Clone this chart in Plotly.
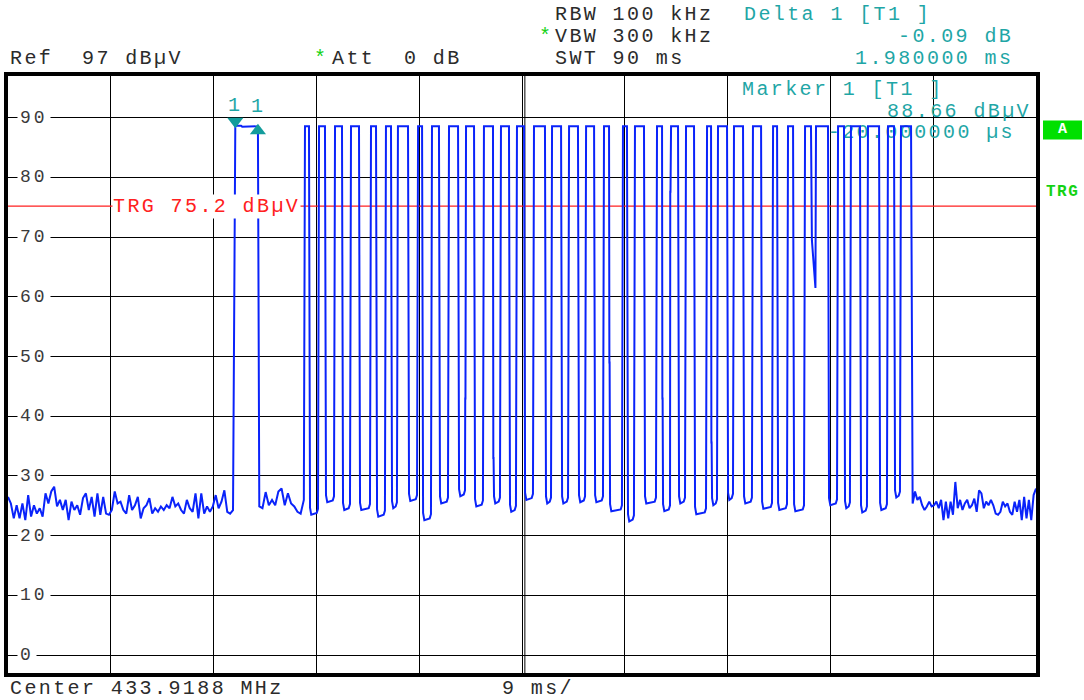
import numpy as np
import plotly.graph_objects as go

# ---------------- sweep / display settings ----------------
REF_LEVEL = 97.0          # dBuV, top grid line
BOTTOM_LEVEL = -3.0       # 10 div x 10 dB
SWEEP_MS = 90.0           # 9 ms/div
TRG_LEVEL = 75.2          # video trigger level, dBuV

# ---------------- trace data (ms / dBuV) ----------------
# noise floor before the burst
noise_pre = [26.5, 25.4, 22.9, 25.1, 22.9, 25.4, 22.6, 26.8, 23.2, 25.1, 23.7, 24.6,
             23.2, 27.1, 25.4, 27.4, 28.2, 24.9, 26.0, 24.3, 26.0, 22.6, 25.7, 24.3,
             25.1, 23.5, 26.3, 27.1, 24.3, 26.5, 23.2, 27.1, 23.5, 26.5, 23.7, 23.5,
             24.3, 27.4, 25.4, 25.7, 24.3, 23.7, 26.8, 24.3, 25.1, 26.5, 22.9, 24.6,
             25.1, 26.3, 23.7, 24.6, 24.0, 24.9, 24.3, 25.1, 24.6, 26.5, 24.9, 25.4,
             24.3, 23.7, 26.0, 24.6, 24.0, 27.1, 22.9, 27.1, 23.7, 24.9, 24.0, 24.9,
             26.8, 24.6, 25.7, 27.6, 24.0, 23.7, 24.3]
noise_pre_span = (0.0, 19.70)

# preamble pulse carrying marker 1 and delta marker
marker1_ms = 19.90
marker1_dbuv = 88.66
delta_ms = 1.98
delta_db = -0.09
preamble_step_ms = 20.40

# noise between preamble and data burst
noise_gap = [24.9, 24.6, 27.3, 25.1, 26.0, 25.1, 27.4, 27.9, 25.1, 27.1, 25.4,
             24.9, 24.0, 23.7, 26.0]
noise_gap_span = (22.00, 25.90)

# data burst: rising / falling edge times and the low level of each gap
pulse_rise = [26.00, 27.23, 28.63, 30.03, 31.78, 33.09, 34.14, 35.90, 37.12, 38.61,
              40.10, 41.67, 43.16, 44.56, 46.05, 47.63, 49.12, 50.61, 52.18, 53.84,
              54.89, 56.82, 58.05, 59.36, 61.20, 62.16, 63.56, 65.22, 66.98, 68.29,
              69.78, 70.74, 72.67, 73.80, 75.29, 77.04, 78.18]
pulse_fall = [26.35, 27.75, 29.24, 30.73, 32.22, 33.53, 35.02, 36.25, 37.73, 39.40,
              40.80, 42.46, 43.86, 45.18, 47.01, 48.42, 49.90, 51.31, 52.62, 54.19,
              55.68, 57.26, 58.66, 60.06, 61.55, 62.95, 64.35, 65.93, 67.33, 68.73,
              70.30, 71.79, 73.19, 74.59, 76.26, 77.57, 79.06]
pulse_top = 88.6
gap_low = [23.5, 25.6, 24.3, 24.3, 23.2, 24.6, 25.8, 22.6, 25.4, 26.6, 24.9, 25.4,
           24.0, 26.0, 25.4, 25.4, 25.6, 25.6, 24.1, 22.4, 25.4, 24.1, 25.4, 23.6,
           25.1, 26.0, 25.4, 24.5, 24.3, 24.1, 61.5, 25.1, 24.6, 23.9, 24.3, 26.4]
# sweep points caught half way through an edge: (pulse index, edge, level dBuV)
edge_samples = [(10, "rise", 43.0), (11, "fall", 33.0), (18, "fall", 49.0),
                (21, "fall", 43.0), (22, "rise", 77.6), (24, "fall", 35.6)]

# noise floor after the burst
noise_post = [25.4, 27.4, 26.0, 26.5, 25.1, 24.3, 24.9, 25.7, 24.9, 25.1, 25.7, 24.6,
              26.0, 22.6, 25.7, 22.9, 25.7, 23.5, 29.0, 24.6, 26.0, 24.3, 25.4, 26.0,
              24.6, 25.1, 26.2, 24.0, 27.6, 27.1, 24.6, 25.7, 25.1, 26.0, 25.1, 23.7,
              23.5, 24.0, 25.7, 24.9, 25.4, 24.0, 23.5, 25.7, 24.0, 26.0, 22.6, 26.5,
              22.9, 26.0, 22.6, 26.8, 27.9]
noise_post_span = (79.20, 90.00)

# y axis labels
y_ticks = [0, 10, 20, 30, 40, 50, 60, 70, 80, 90]

# ---------------- assemble the trace ----------------
t, v = [], []
t += list(np.linspace(*noise_pre_span, len(noise_pre)))
v += noise_pre

delta_dbuv = marker1_dbuv + delta_db
t += [marker1_ms, preamble_step_ms, preamble_step_ms + 0.1, marker1_ms + delta_ms]
v += [marker1_dbuv, marker1_dbuv, delta_dbuv - 0.05, delta_dbuv]

t += list(np.linspace(*noise_gap_span, len(noise_gap)))
v += noise_gap

mid_rise = {i: lvl for i, e, lvl in edge_samples if e == "rise"}
mid_fall = {i: lvl for i, e, lvl in edge_samples if e == "fall"}

for i, (r, f) in enumerate(zip(pulse_rise, pulse_fall)):
    if i in mid_rise:
        t += [r - 0.07, r - 0.05]
        v += [mid_rise[i], mid_rise[i]]
    t += [r, f]
    v += [pulse_top, pulse_top]
    if i in mid_fall:
        t += [f + 0.03, f + 0.05]
        v += [mid_fall[i], mid_fall[i]]
    if i < len(gap_low):
        low = gap_low[i]
        nxt = pulse_rise[i + 1]
        if low > 40:          # partial dip, signal never reaches the floor
            t += [f + 0.08, nxt - 0.05]
            v += [low + 8, low]
        else:
            t += [f + 0.09, f + 0.2, nxt - 0.2, nxt - 0.09]
            v += [low + 1.2, low, low + 0.3, low + 1.0]

t += list(np.linspace(*noise_post_span, len(noise_post)))
v += noise_post

# ---------------- pixel layout helpers ----------------
W, H = 1084, 700
X0, X1 = 8, 1036          # plot area, px
Y0, Y1 = 75.5, 673.5


def px(x):
    return (x - X0) / (X1 - X0)


def py(y):
    return (Y1 - y) / (Y1 - Y0)


FONT = "Liberation Mono, Courier New, monospace"
DARK = "#2b2b2b"
TEAL = "#1fa6a6"
GREEN = "#14d214"
RED = "#ff2020"
BLUE = "#0a23fa"


def mono(s, spacing=2.4):
    s = s.replace(" ", "\u00a0")
    return f'<span style="letter-spacing:{spacing}px">{s}</span>'


annotations = []


def label(text, x, y, color=DARK, anchor="left", size=20, bg=None, spacing=2.4):
    annotations.append(dict(
        text=mono(text, spacing), x=px(x), y=py(y), xref="paper", yref="paper",
        xanchor=anchor, yanchor="middle", showarrow=False,
        font=dict(family=FONT, size=size, color=color),
        bgcolor=bg, borderpad=1,
    ))


# header block
label("RBW 100 kHz", 553, 14)
label("VBW 300 kHz", 553, 36)
label("SWT 90 ms", 553, 58)
label("Ref  97 dBµV", 8, 58)
label("Att  0 dB", 330, 58)
label("*", 537, 36, color=GREEN, size=20, spacing=0)
label("*", 312, 58, color=GREEN, size=20, spacing=0)
label("Delta 1 [T1 ]", 742, 14, color=TEAL)
label("-0.09 dB", 1015, 36, color=TEAL, anchor="right")
label("1.980000 ms", 1015, 58, color=TEAL, anchor="right")

# footer
label("Center 433.9188 MHz", 8, 689)
label("9 ms/", 500, 689)

# right-hand status
annotations.append(dict(
    text=mono("<b>TRG</b>", 1.5), x=px(1044), y=py(192), xref="paper", yref="paper",
    xanchor="left", yanchor="middle", showarrow=False,
    font=dict(family=FONT, size=16, color=GREEN)))
annotations.append(dict(
    text="<b>A</b>", x=px(1062), y=py(129), xref="paper", yref="paper",
    xanchor="center", yanchor="middle", showarrow=False,
    font=dict(family=FONT, size=15, color="white")))

# trigger label on the trigger line
annotations.append(dict(
    text=mono("TRG 75.2 dBµV"), x=px(112), y=TRG_LEVEL, xref="paper", yref="y",
    xanchor="left", yanchor="middle", showarrow=False,
    font=dict(family=FONT, size=20, color=RED), bgcolor="white", borderpad=0))

# y tick labels sitting on the grid lines
for val in y_ticks:
    annotations.append(dict(
        text=mono(str(val), 3), x=px(17), y=val, xref="paper", yref="y",
        xanchor="left", yanchor="middle", showarrow=False,
        font=dict(family=FONT, size=18, color="#3a3a3a"), bgcolor="white",
        borderpad=2))

# marker numbers above the marker symbols
for mx, my in [(marker1_ms, marker1_dbuv), (marker1_ms + delta_ms, delta_dbuv)]:
    annotations.append(dict(
        text=mono("1"), x=mx, y=my, xref="x", yref="y", xanchor="center",
        yanchor="middle", yshift=20, showarrow=False,
        font=dict(family=FONT, size=20, color=TEAL)))

fig = go.Figure()

# marker readout inside the diagram (the trace is drawn over it)
readout_x = SWEEP_MS * (1015 - X0) / (X1 - X0)
fig.add_trace(go.Scatter(
    x=[SWEEP_MS * (742 - X0) / (X1 - X0)], y=[REF_LEVEL - (90 - Y0) / 5.985],
    mode="text", text=[mono("Marker 1 [T1 ]")], textposition="middle right",
    textfont=dict(family=FONT, size=20, color=TEAL), hoverinfo="skip"))
fig.add_trace(go.Scatter(
    x=[SWEEP_MS * (1031 - X0) / (X1 - X0), readout_x],
    y=[REF_LEVEL - (112 - Y0) / 5.985, REF_LEVEL - (133 - Y0) / 5.985],
    mode="text", text=[mono("88.66 dBµV"), mono("-20.000000 µs")],
    textposition="middle left",
    textfont=dict(family=FONT, size=20, color=TEAL), hoverinfo="skip"))

# trigger level line
fig.add_trace(go.Scatter(x=[0, SWEEP_MS], y=[TRG_LEVEL, TRG_LEVEL], mode="lines",
                         line=dict(color=RED, width=1.2), hoverinfo="skip"))

# measured trace
fig.add_trace(go.Scatter(x=t, y=v, mode="lines",
                         line=dict(color=BLUE, width=2), hoverinfo="skip"))

# marker symbols
fig.add_trace(go.Scatter(x=[marker1_ms], y=[marker1_dbuv + 0.75], mode="markers",
                         marker=dict(symbol="triangle-down", size=14, color="#139c9c",
                                     line=dict(width=0))))
fig.add_trace(go.Scatter(x=[marker1_ms + delta_ms], y=[delta_dbuv - 0.75],
                         mode="markers",
                         marker=dict(symbol="triangle-up", size=14, color="#139c9c",
                                     line=dict(width=0))))

shapes = [
    # outer frame of the double border
    dict(type="rect", xref="paper", yref="paper",
         x0=px(X0 - 3), x1=px(X1 + 3), y0=py(Y1 + 3), y1=py(Y0 - 3),
         line=dict(color="black", width=2)),
    # doubled centre graticule line
    dict(type="line", xref="x", yref="paper",
         x0=SWEEP_MS / 2 + 0.25, x1=SWEEP_MS / 2 + 0.25, y0=0, y1=1,
         line=dict(color="black", width=1), layer="below"),
    # "A" trace indicator box
    dict(type="rect", xref="paper", yref="paper",
         x0=px(1043), x1=px(1082), y0=py(139), y1=py(120),
         fillcolor="#00e000", line=dict(width=0)),
]

fig.update_layout(
    width=W, height=H,
    margin=dict(l=X0, r=W - X1, t=Y0, b=H - Y1),
    paper_bgcolor="white", plot_bgcolor="white",
    showlegend=False,
    xaxis=dict(range=[0, SWEEP_MS], tick0=0, dtick=SWEEP_MS / 10, showgrid=True,
               gridcolor="black", gridwidth=1, showticklabels=False, ticks="",
               zeroline=False, showline=True, mirror=True, linecolor="black",
               linewidth=1.5, fixedrange=True),
    yaxis=dict(range=[BOTTOM_LEVEL, REF_LEVEL], tick0=0, dtick=10, showgrid=True,
               gridcolor="black", gridwidth=1, showticklabels=False, ticks="",
               zeroline=False, showline=True, mirror=True, linecolor="black",
               linewidth=1.5, fixedrange=True),
    annotations=annotations,
    shapes=shapes,
)

fig.write_html("out.html")
